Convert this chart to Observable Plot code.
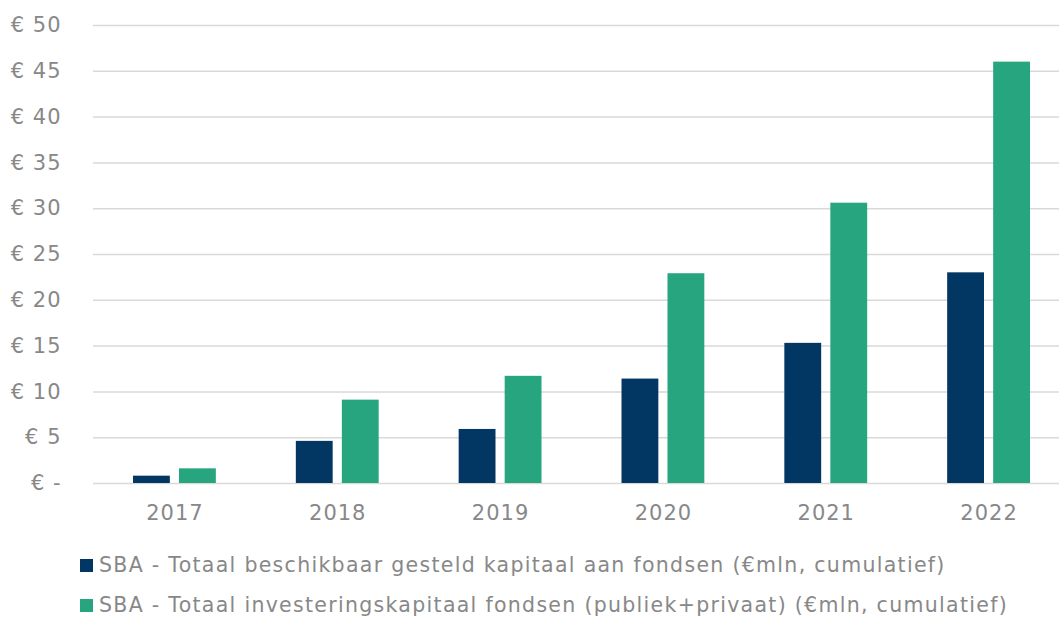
<!DOCTYPE html>
<html>
<head>
<meta charset="utf-8">
<script src="https://cdn.jsdelivr.net/npm/d3@7"></script>
<script src="https://cdn.jsdelivr.net/npm/@observablehq/plot@0.6"></script>
<style>
  html, body { margin: 0; padding: 0; background: #fff; }
  body { width: 1059px; height: 619px; overflow: hidden; font-family: "DejaVu Sans", Verdana, sans-serif; }
  #legend { position: absolute; left: 80px; top: 545px; font-size: 20.5px; letter-spacing: 1.3px; color: #888888; }
  .item { display: flex; align-items: center; height: 40px; white-space: nowrap; }
  .sw { width: 13px; height: 13px; margin-right: 6px; }
  svg text { letter-spacing: 1px; }
</style>
</head>
<body>
<div id="chart"></div>
<div id="legend"></div>
<script>
const years = ["2017", "2018", "2019", "2020", "2021", "2022"];
const seriesNames = [
  "SBA - Totaal beschikbaar gesteld kapitaal aan fondsen (€mln, cumulatief)",
  "SBA - Totaal investeringskapitaal fondsen (publiek+privaat) (€mln, cumulatief)"
];
const beschikbaar = [0.8, 4.6, 5.9, 11.4, 15.3, 23.0];
const investering = [1.6, 9.1, 11.7, 22.9, 30.6, 46.0];
const colors = ["#023763", "#27a57f"];
const yTicks = [0, 5, 10, 15, 20, 25, 30, 35, 40, 45, 50];

const data = [];
years.forEach((y, i) => {
  data.push({year: y, series: seriesNames[0], value: beschikbaar[i]});
  data.push({year: y, series: seriesNames[1], value: investering[i]});
});

const chart = Plot.plot({
  width: 1059,
  height: 540,
  marginLeft: 93,
  marginRight: 0,
  marginTop: 25,
  marginBottom: 57,
  style: {fontFamily: "'DejaVu Sans', Verdana, sans-serif", fontSize: "21px", color: "#888888", background: "#fff"},
  x: {domain: years, range: [93, 1070], padding: 0, round: false, label: null},
  y: {domain: [0, 50], label: null},
  color: {domain: seriesNames, range: colors},
  marks: [
    Plot.ruleY(yTicks, {stroke: "#d9d9d9", strokeWidth: 1.5}),
    Plot.barY(data.filter(d => d.series === seriesNames[0]), {x: "year", y: "value", fill: "series", insetLeft: 40, insetRight: 86}),
    Plot.barY(data.filter(d => d.series === seriesNames[1]), {x: "year", y: "value", fill: "series", insetLeft: 86, insetRight: 40}),
    Plot.axisY({ticks: yTicks, tickSize: 0, tickPadding: 32, tickFormat: d => d === 0 ? "€ -" : "€ " + d, fill: "#888888", fontSize: 21}),
    Plot.axisX({tickSize: 0, tickPadding: 22, fill: "#888888", fontSize: 21})
  ]
});
document.getElementById("chart").appendChild(chart);

const legend = document.getElementById("legend");
seriesNames.forEach((s, i) => {
  const item = document.createElement("div");
  item.className = "item";
  const sw = document.createElement("span");
  sw.className = "sw";
  sw.style.background = colors[i];
  const t = document.createElement("span");
  t.textContent = s;
  item.appendChild(sw);
  item.appendChild(t);
  legend.appendChild(item);
});
</script>
</body>
</html>
